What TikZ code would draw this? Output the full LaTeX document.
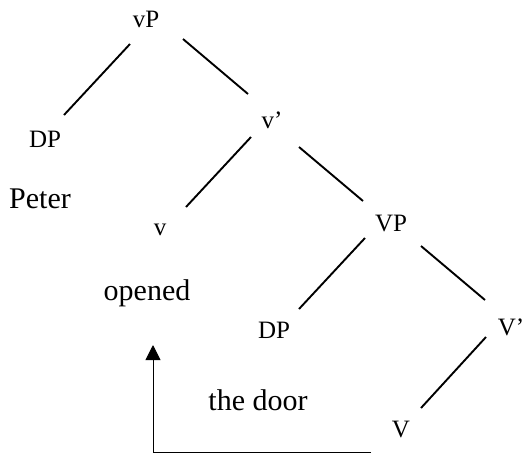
\documentclass[tikz,border=0pt]{standalone}
\usepackage{fontspec}
\setmainfont{Liberation Serif}
\usetikzlibrary{arrows.meta}
\begin{document}
\begin{tikzpicture}[x=1pt,y=-1pt,
  lbl/.style={anchor=base,inner sep=0pt,font=\fontsize{25}{30}\selectfont},
  word/.style={anchor=base,inner sep=0pt,font=\fontsize{30}{36}\selectfont},
  branch/.style={line width=1.9pt},
  move/.style={line width=1pt,-{Triangle[width=15pt,length=15pt]}}]
\useasboundingbox (0,0) rectangle (527,453);
\node[lbl] (vP) at (146,27) {vP};
\node[lbl] (DPa) at (45,147) {DP};
\node[lbl] (vbar) at (272,128) {v’};
\node[word] (peter) at (40,208) {Peter};
\node[lbl] (v) at (160,235) {v};
\node[lbl] (VP) at (391,231) {VP};
\node[word] (opened) at (147,300) {opened};
\node[lbl] (DPb) at (274,338) {DP};
\node[lbl] (Vbar) at (511,335) {V’};
\node[word] (door) at (258,410) {the door};
\node[lbl] (V) at (401,437) {V};
\draw[branch] ([shift={(-16,17)}]vP.base) -- ([shift={(19,-32)}]DPa.base);
\draw[branch] ([shift={(37,12)}]vP.base) -- ([shift={(-24,-34)}]vbar.base);
\draw[branch] ([shift={(-21,9)}]vbar.base) -- ([shift={(26,-28)}]v.base);
\draw[branch] ([shift={(27,19)}]vbar.base) -- ([shift={(-28,-30)}]VP.base);
\draw[branch] ([shift={(-26,7)}]VP.base) -- ([shift={(25,-29)}]DPb.base);
\draw[branch] ([shift={(30,15)}]VP.base) -- ([shift={(-26,-35)}]Vbar.base);
\draw[branch] ([shift={(-25,2)}]Vbar.base) -- ([shift={(20,-29)}]V.base);
\draw[move] ([shift={(-30,15)}]V.base) -| ([shift={(6,45)}]opened.base);
\end{tikzpicture}
\end{document}
